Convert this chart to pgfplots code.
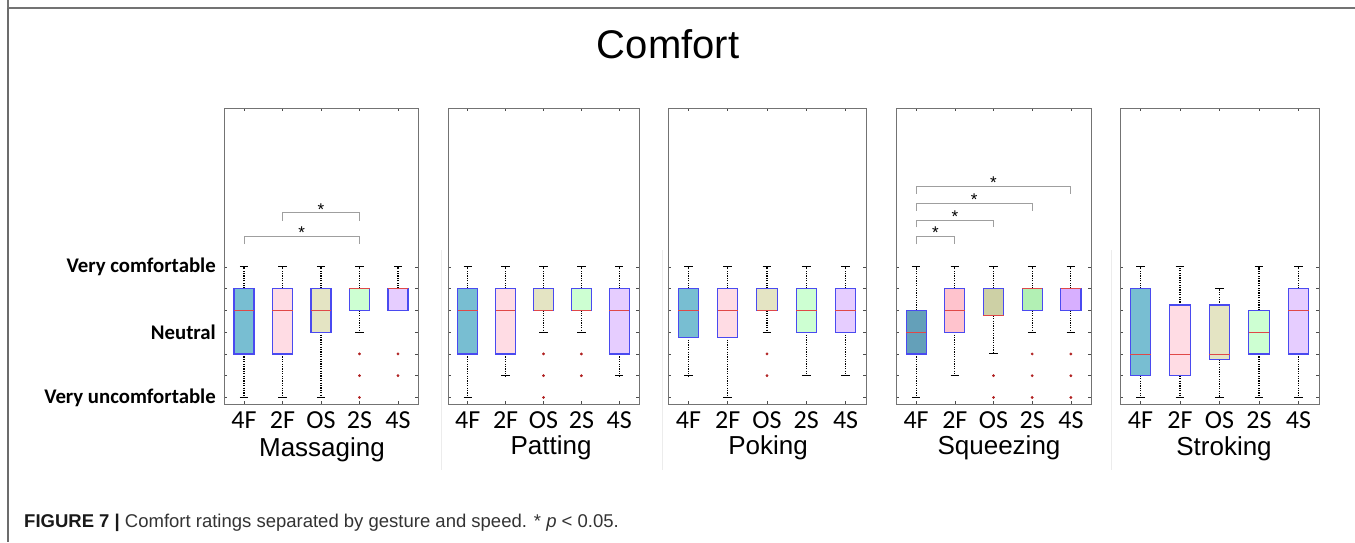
\documentclass[border=0pt]{standalone}
\usepackage{fontspec}
\setmainfont{Liberation Sans}
\newfontfamily\carlito{Carlito}
\usepackage{pgfplots}
\pgfplotsset{compat=1.18}
\usepgfplotslibrary{statistics}
\definecolor{boxblue}{HTML}{4A4AF0}
\definecolor{medred}{HTML}{E04848}
\definecolor{outred}{HTML}{B02020}
\definecolor{cA}{HTML}{78BED2}
\definecolor{cB}{HTML}{FFDCE4}
\definecolor{cC}{HTML}{E4E4C3}
\definecolor{cD}{HTML}{CDFFD2}
\definecolor{cE}{HTML}{E6CDFF}
\definecolor{sA}{HTML}{64A0B9}
\definecolor{sB}{HTML}{FFC3CD}
\definecolor{sC}{HTML}{CDD0A5}
\definecolor{sD}{HTML}{B2F0B4}
\definecolor{sE}{HTML}{D7AFFF}
\tikzset{
  whiskline/.style={black, line width=1.2pt, dash pattern=on 1.2pt off 1.2pt},
  capline/.style={black, line width=1pt},
}
\pgfplotsset{
  boxplot/draw direction=y,
  boxplot/draw/lower whisker/.code={%
    \pgfmathparse{(\pgfplotsboxplotvalue{lower quartile})-(\pgfplotsboxplotvalue{lower whisker})}%
    \ifdim\pgfmathresult pt>0.01pt
      \draw[whiskline] (boxplot box cs:\pgfplotsboxplotvalue{lower quartile},0.5) -- (boxplot box cs:\pgfplotsboxplotvalue{lower whisker},0.5);
      \draw[capline] (boxplot whisker cs:\pgfplotsboxplotvalue{lower whisker},0) -- (boxplot whisker cs:\pgfplotsboxplotvalue{lower whisker},1);
    \fi
  },
  boxplot/draw/upper whisker/.code={%
    \pgfmathparse{(\pgfplotsboxplotvalue{upper whisker})-(\pgfplotsboxplotvalue{upper quartile})}%
    \ifdim\pgfmathresult pt>0.01pt
      \draw[whiskline] (boxplot box cs:\pgfplotsboxplotvalue{upper quartile},0.5) -- (boxplot box cs:\pgfplotsboxplotvalue{upper whisker},0.5);
      \draw[capline] (boxplot whisker cs:\pgfplotsboxplotvalue{upper whisker},0) -- (boxplot whisker cs:\pgfplotsboxplotvalue{upper whisker},1);
    \fi
  },
  bx/.style={
    boxplot/draw direction=y,
    boxplot/box extend=0.52,
    boxplot/whisker extend=0.22,
    boxplot/every box/.style={draw=boxblue, fill=#1, line width=1.1pt},
    boxplot/every median/.style={draw=medred, line width=0.9pt},
  },
  outl/.style={only marks, mark=*, mark size=1.2pt, color=outred},
  brk/.style={draw=gray!75, line width=0.8pt},
  panel/.style={
    scale only axis, width=#1, height=296pt,
    anchor=north west,
    xmin=0.48, xmax=5.52, ymin=0.7, ymax=14.3,
    axis line style={draw=gray!90!black, line width=0.8pt},
    xtick={1,2,3,4,5}, xticklabels={4F,2F,OS,2S,4S},
    ytick={1,2,3,4,5,6,7}, yticklabels={},
    tick align=inside, tick pos=both, major tick length=3pt,
    tick style={black!70, line width=0.6pt},
    xticklabel style={font=\carlito\fontsize{26}{26}\selectfont, anchor=base, yshift=-24pt, inner sep=0pt},
    clip=false,
  },
}
\newcommand\sigstar{\fontsize{17}{17}\selectfont *}
\begin{document}
\begin{tikzpicture}
\useasboundingbox (0pt,0pt) rectangle (1355pt,-542pt);
% outer frame
\draw[gray!90!black, line width=2pt] (8pt,0pt) -- (8pt,-8pt) -- (1355pt,-8pt);
\draw[gray!85!black, line width=2pt] (8pt,-8pt) -- (8pt,-542pt);
% faint separators
\foreach \xx in {441,662,1111} \draw[gray!15, line width=0.8pt] (\xx pt,-250pt) -- (\xx pt,-470pt);
% title
\node[font=\fontsize{40}{40}\selectfont, anchor=base] at (668pt,-58pt) {Comfort};

% ---------- Massaging ----------
\begin{axis}[panel=194pt, at={(224pt,-108pt)},
  yticklabels={Very uncomfortable,,,Neutral,,,Very comfortable},
  yticklabel style={font=\carlito\bfseries\fontsize{20.8}{20.8}\selectfont, anchor=east, inner sep=0pt, xshift=-8pt}]
\addplot[bx=cA, boxplot prepared={draw position=1, lower whisker=1, lower quartile=3, median=5, upper quartile=6, upper whisker=7}] coordinates {};
\addplot[bx=cB, boxplot prepared={draw position=2, lower whisker=1, lower quartile=3, median=5, upper quartile=6, upper whisker=7}] coordinates {};
\addplot[bx=cC, boxplot prepared={draw position=3, lower whisker=1, lower quartile=4, median=5, upper quartile=6, upper whisker=7}] coordinates {};
\addplot[bx=cD, boxplot prepared={draw position=4, lower whisker=4, lower quartile=5, median=6, upper quartile=6, upper whisker=7}] coordinates {};
\addplot[bx=cE, boxplot prepared={draw position=5, lower whisker=5, lower quartile=5, median=6, upper quartile=6, upper whisker=7}] coordinates {};
\addplot[outl] coordinates {(4,3) (4,2) (4,1) (5,3) (5,2)};
\addplot[brk] coordinates {(2,9.12) (2,9.49) (4,9.49) (4,9.12)};
\addplot[brk] coordinates {(1,8.05) (1,8.42) (4,8.42) (4,8.05)};
\node at (axis cs:3,9.64) {\sigstar};
\node at (axis cs:2.5,8.58) {\sigstar};
\end{axis}

% ---------- Patting ----------
\begin{axis}[panel=191pt, at={(448pt,-108pt)}]
\addplot[bx=cA, boxplot prepared={draw position=1, lower whisker=1, lower quartile=3, median=5, upper quartile=6, upper whisker=7}] coordinates {};
\addplot[bx=cB, boxplot prepared={draw position=2, lower whisker=2, lower quartile=3, median=5, upper quartile=6, upper whisker=7}] coordinates {};
\addplot[bx=cC, boxplot prepared={draw position=3, lower whisker=4, lower quartile=5, median=5, upper quartile=6, upper whisker=7}] coordinates {};
\addplot[bx=cD, boxplot prepared={draw position=4, lower whisker=4, lower quartile=5, median=5, upper quartile=6, upper whisker=7}] coordinates {};
\addplot[bx=cE, boxplot prepared={draw position=5, lower whisker=2, lower quartile=3, median=5, upper quartile=6, upper whisker=7}] coordinates {};
\addplot[outl] coordinates {(3,3) (3,2) (3,1) (4,3) (4,2)};
\end{axis}

% ---------- Poking ----------
\begin{axis}[panel=198pt, at={(668pt,-108pt)}]
\addplot[bx=cA, boxplot prepared={draw position=1, lower whisker=2, lower quartile=3.77, median=5, upper quartile=6, upper whisker=7}] coordinates {};
\addplot[bx=cB, boxplot prepared={draw position=2, lower whisker=1, lower quartile=3.77, median=5, upper quartile=6, upper whisker=7}] coordinates {};
\addplot[bx=cC, boxplot prepared={draw position=3, lower whisker=4, lower quartile=5, median=5, upper quartile=6, upper whisker=7}] coordinates {};
\addplot[bx=cD, boxplot prepared={draw position=4, lower whisker=2, lower quartile=4, median=5, upper quartile=6, upper whisker=7}] coordinates {};
\addplot[bx=cE, boxplot prepared={draw position=5, lower whisker=2, lower quartile=4, median=5, upper quartile=6, upper whisker=7}] coordinates {};
\addplot[outl] coordinates {(3,3) (3,2)};
\end{axis}

% ---------- Squeezing ----------
\begin{axis}[panel=195pt, at={(896pt,-108pt)}]
\addplot[bx=sA, boxplot prepared={draw position=1, lower whisker=1, lower quartile=3, median=4, upper quartile=5, upper whisker=7}] coordinates {};
\addplot[bx=sB, boxplot prepared={draw position=2, lower whisker=2, lower quartile=4, median=5, upper quartile=6, upper whisker=7}] coordinates {};
\addplot[bx=sC, boxplot prepared={draw position=3, lower whisker=3, lower quartile=4.75, median=4.75, upper quartile=6, upper whisker=7}] coordinates {};
\addplot[bx=sD, boxplot prepared={draw position=4, lower whisker=4, lower quartile=5, median=6, upper quartile=6, upper whisker=7}] coordinates {};
\addplot[bx=sE, boxplot prepared={draw position=5, lower whisker=4, lower quartile=5, median=6, upper quartile=6, upper whisker=7}] coordinates {};
\addplot[outl] coordinates {(3,2) (3,1) (4,3) (4,2) (4,1) (5,3) (5,2) (5,1)};
\addplot[brk] coordinates {(1,8.04) (1,8.39) (2,8.39) (2,8.04)};
\addplot[brk] coordinates {(1,8.82) (1,9.15) (3,9.15) (3,8.82)};
\addplot[brk] coordinates {(1,9.58) (1,9.92) (4,9.92) (4,9.58)};
\addplot[brk] coordinates {(1,10.35) (1,10.68) (5,10.68) (5,10.35)};
\node at (axis cs:1.5,8.57) {\sigstar};
\node at (axis cs:2,9.33) {\sigstar};
\node at (axis cs:2.5,10.10) {\sigstar};
\node at (axis cs:3,10.89) {\sigstar};
\end{axis}

% ---------- Stroking ----------
\begin{axis}[panel=199pt, at={(1120pt,-108pt)}]
\addplot[bx=cA, boxplot prepared={draw position=1, lower whisker=1, lower quartile=2, median=3, upper quartile=6, upper whisker=7}] coordinates {};
\addplot[bx=cB, boxplot prepared={draw position=2, lower whisker=1, lower quartile=2, median=3, upper quartile=5.25, upper whisker=7}] coordinates {};
\addplot[bx=cC, boxplot prepared={draw position=3, lower whisker=1, lower quartile=2.75, median=3, upper quartile=5.25, upper whisker=6}] coordinates {};
\addplot[bx=cD, boxplot prepared={draw position=4, lower whisker=1, lower quartile=3, median=4, upper quartile=5, upper whisker=7}] coordinates {};
\addplot[bx=cE, boxplot prepared={draw position=5, lower whisker=1, lower quartile=3, median=5, upper quartile=6, upper whisker=7}] coordinates {};
\end{axis}

% gesture names
\begin{scope}[every node/.style={font=\fontsize{26}{26}\selectfont, anchor=base, inner sep=0pt}]
\node at (322pt,-456pt) {Massaging};
\node at (551pt,-454pt) {Patting};
\node at (768pt,-454pt) {Poking};
\node at (999pt,-454pt) {Squeezing};
\node at (1224pt,-455pt) {Stroking};
\end{scope}

% caption
\node[anchor=base west, inner sep=0pt, font=\fontsize{18.5}{18.5}\selectfont, text=black!80] at (24pt,-527pt)
  {\textcolor{black!90}{\textbf{FIGURE 7 |}} Comfort ratings separated by gesture and speed. * \textit{p} < 0.05.};
\end{tikzpicture}
\end{document}
